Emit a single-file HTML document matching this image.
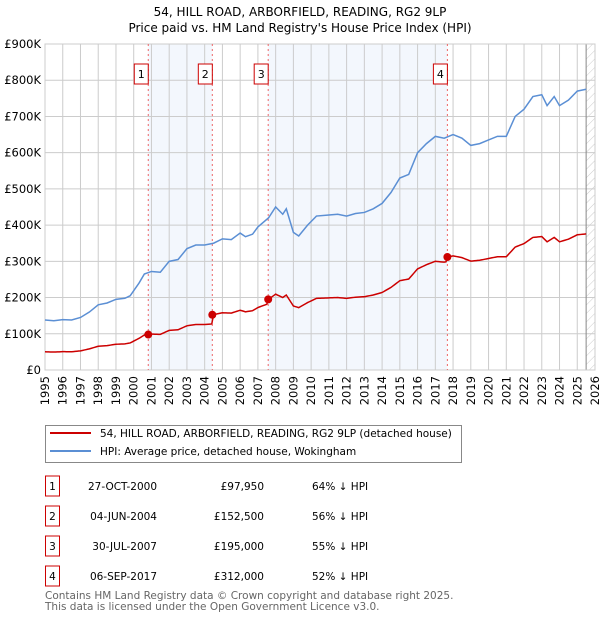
<!DOCTYPE html>
<html><head><meta charset="utf-8"><style>
body{margin:0;background:#fff;font-family:"DejaVu Sans","Liberation Sans",sans-serif;}
svg text{font-family:"DejaVu Sans","Liberation Sans",sans-serif;}
</style></head><body>
<svg id="c" width="600" height="620" xmlns="http://www.w3.org/2000/svg">
<defs><pattern id="hatch" width="6" height="6" patternUnits="userSpaceOnUse" patternTransform="rotate(45)"><line x1="0" y1="0" x2="0" y2="6" stroke="#ccc" stroke-width="1"/></pattern></defs>
<text x="300" y="16" text-anchor="middle" font-size="12">54, HILL ROAD, ARBORFIELD, READING, RG2 9LP</text>
<text x="300" y="32" text-anchor="middle" font-size="12">Price paid vs. HM Land Registry's House Price Index (HPI)</text>
<g id="plot"></g>
<g>
<rect x="45.5" y="425.5" width="416" height="37" fill="#fff" stroke="#888"/>
<line x1="50" y1="433" x2="91" y2="433" stroke="#cc0000" stroke-width="2"/>
<text x="100" y="437" font-size="10.5">54, HILL ROAD, ARBORFIELD, READING, RG2 9LP (detached house)</text>
<line x1="50" y1="451" x2="91" y2="451" stroke="#5b8fd4" stroke-width="2"/>
<text x="100" y="455" font-size="10.5">HPI: Average price, detached house, Wokingham</text>
</g>
<g id="tbl"></g>
<text x="45" y="599" font-size="10.5" fill="#666">Contains HM Land Registry data © Crown copyright and database right 2025.</text>
<text x="45" y="610" font-size="10.5" fill="#666">This data is licensed under the Open Government Licence v3.0.</text>
</svg>
<script>
const hpiYears=[1995,1995.5,1996,1996.5,1997,1997.5,1998,1998.5,1999,1999.5,1999.8,2000.3,2000.6,2001,2001.5,2002,2002.5,2003,2003.5,2004,2004.5,2005,2005.5,2006,2006.3,2006.7,2007,2007.6,2008,2008.4,2008.6,2009,2009.3,2009.8,2010.3,2011,2011.5,2012,2012.5,2013,2013.5,2014,2014.5,2015,2015.5,2016,2016.5,2017,2017.5,2018,2018.5,2019,2019.5,2020,2020.5,2021,2021.5,2022,2022.5,2023,2023.3,2023.7,2024,2024.5,2025,2025.5];
const hpiValues=[138,136,139,138,145,160,180,185,195,198,205,240,265,272,270,300,305,335,345,345,350,362,360,378,368,375,395,420,450,430,445,380,370,400,425,428,430,425,432,435,445,460,490,530,540,600,625,645,640,650,640,620,625,635,645,645,700,720,755,760,730,755,730,745,770,775];
const saleYears=[2000.82,2004.43,2007.58,2017.68];
const salePrices=[97950,152500,195000,312000];
const saleDates=["27-OCT-2000","04-JUN-2004","30-JUL-2007","06-SEP-2017"];
const salePriceLabels=["£97,950","£152,500","£195,000","£312,000"];
const saleDiffs=["64% ↓ HPI","56% ↓ HPI","55% ↓ HPI","52% ↓ HPI"];
const yTicks=[0,100,200,300,400,500,600,700,800,900];
const yTickLabels=["£0","£100K","£200K","£300K","£400K","£500K","£600K","£700K","£800K","£900K"];
const xTicks=[1995,1996,1997,1998,1999,2000,2001,2002,2003,2004,2005,2006,2007,2008,2009,2010,2011,2012,2013,2014,2015,2016,2017,2018,2019,2020,2021,2022,2023,2024,2025,2026];

const X0=45,X1=595,Y0=370,Y1=44;
const sx=y=>X0+(y-1995)/(2026-1995)*(X1-X0);
const sy=v=>Y0-v/900*(Y0-Y1);
const NS="http://www.w3.org/2000/svg";
const plot=document.getElementById('plot');
function mk(tag,attrs,parent){const e=document.createElementNS(NS,tag);for(const k in attrs)e.setAttribute(k,attrs[k]);(parent||plot).appendChild(e);return e;}
function hpiAt(t){if(t<=hpiYears[0])return hpiValues[0];for(let i=1;i<hpiYears.length;i++){if(t<=hpiYears[i]){const f=(t-hpiYears[i-1])/(hpiYears[i]-hpiYears[i-1]);return hpiValues[i-1]+f*(hpiValues[i]-hpiValues[i-1]);}}return hpiValues[hpiValues.length-1];}

// shading
for(let i=0;i<saleYears.length;i+=2){
 const a=saleYears[i],b=i+1<saleYears.length?saleYears[i+1]:2025.5;
 const r=mk('rect',{x:sx(a),y:Y1,width:sx(b)-sx(a),height:Y0-Y1,fill:'#eef3fc',opacity:0.7});
 
 
}
const h=mk('rect',{x:sx(2025.5),y:Y1,width:X1-sx(2025.5),height:Y0-Y1,fill:'url(#hatch)'});


// grid
yTicks.forEach((v,i)=>{
 mk('line',{x1:X0,x2:X1,y1:sy(v),y2:sy(v),stroke:'#ccc','stroke-width':1});
 const t=mk('text',{x:X0-4,y:sy(v)+4,'text-anchor':'end','font-size':11.5});
 t.textContent=yTickLabels[i];
 
 
});
xTicks.forEach(y=>{
 mk('line',{x1:sx(y),x2:sx(y),y1:Y1,y2:Y0,stroke:'#ccc','stroke-width':1});
 const t=mk('text',{x:0,y:0,'text-anchor':'end','font-size':11.5,transform:`translate(${sx(y)+4},${Y0+6}) rotate(-90)`});
 t.textContent=y;
 
 
});
mk('line',{x1:sx(2025.5),x2:sx(2025.5),y1:Y1,y2:Y0,stroke:'#888','stroke-width':1});
mk('rect',{x:X0,y:Y1,width:X1-X0,height:Y0-Y1,fill:'none',stroke:'#ccc'});
// sale vlines & markers boxes
saleYears.forEach((s,i)=>{
 mk('line',{x1:sx(s),x2:sx(s),y1:Y1,y2:Y0,stroke:'#e66','stroke-width':1,'stroke-dasharray':'2,3'});
 const b=mk('rect',{x:sx(s)-14,y:64,width:14,height:20,fill:'#fff',stroke:'#cc0000'});
 
 
 const t=mk('text',{x:sx(s)-7,y:78,'text-anchor':'middle','font-size':11});
 t.textContent=i+1;
});
// HPI line
const pts=hpiYears.map((y,i)=>sx(y)+','+sy(hpiValues[i])).join(' ');
const hl=mk('polyline',{points:pts,fill:'none',stroke:'#5b8fd4','stroke-width':1.5});


// property line: HPI scaled from most recent sale
const rp=[];
for(let t=1995;t<=2025.5001;t+=0.1){
 let k=0;for(let i=0;i<saleYears.length;i++)if(t>=saleYears[i])k=i;
 const f=salePrices[k]/1000/hpiAt(saleYears[k]);
 rp.push(sx(t)+','+sy(hpiAt(t)*f));
}
const pl=mk('polyline',{points:rp.join(' '),fill:'none',stroke:'#cc0000','stroke-width':1.5});


saleYears.forEach((s,i)=>{
 const c=mk('circle',{cx:sx(s),cy:sy(salePrices[i]/1000),r:4,fill:'#cc0000'});
 
 
});
// table
const tbl=document.getElementById('tbl');
const rowY=[487,517,547,577];
saleYears.forEach((s,i)=>{
 const y=rowY[i];
 const b=mk('rect',{x:45.5,y:y-11,width:14,height:20,fill:'#fff',stroke:'#cc0000'},tbl);
 
 
 const n=mk('text',{x:52.5,y:y+3,'text-anchor':'middle','font-size':10.5},tbl);n.textContent=i+1;
 const d=mk('text',{x:157,y:y+3,'text-anchor':'end','font-size':10.5},tbl);d.textContent=saleDates[i];
 
 
 const p=mk('text',{x:264,y:y+3,'text-anchor':'end','font-size':10.5},tbl);p.textContent=salePriceLabels[i];
 
 
 const q=mk('text',{x:312,y:y+3,'font-size':10.5},tbl);q.textContent=saleDiffs[i];
 
 
});
</script>
</body></html>
